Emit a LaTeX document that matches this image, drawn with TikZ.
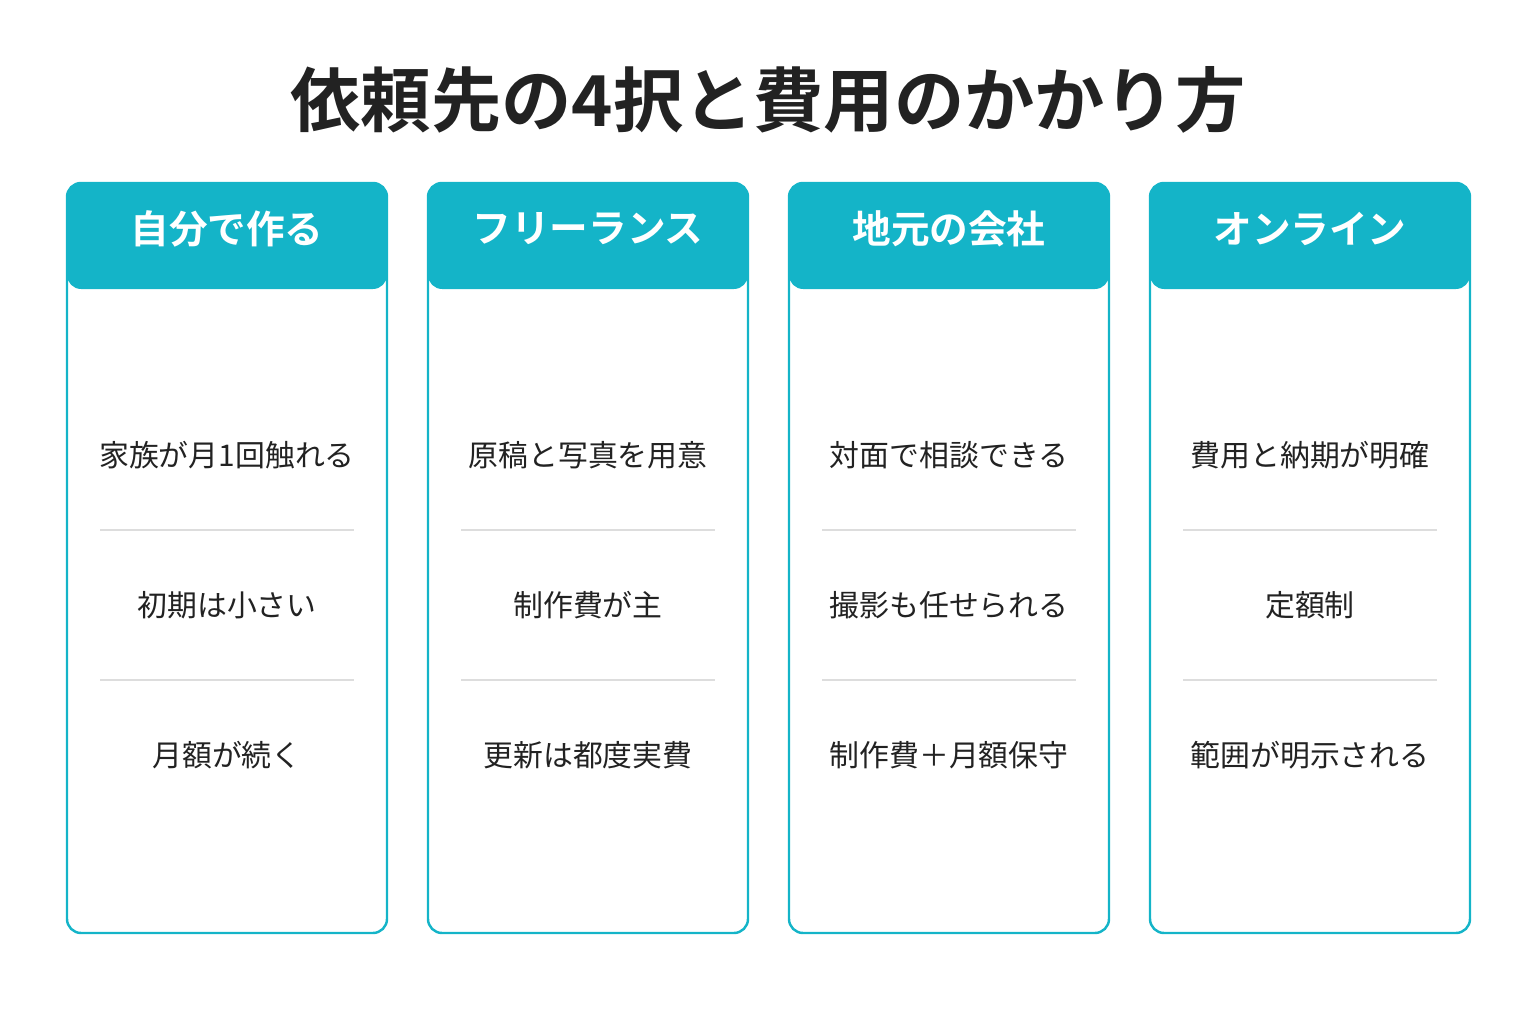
\documentclass[tikz,border=0pt]{standalone}
\usepackage{fontspec}
\newfontfamily\cjk[BoldFont={Noto Sans CJK JP Bold}]{Noto Sans CJK JP}
\definecolor{teal}{HTML}{14B4C8}
\definecolor{ink}{HTML}{222222}
\definecolor{rule}{HTML}{DDDDDD}
\tikzset{
  card/.style={draw=teal, line width=1.4pt, rounded corners=8pt},
  head/.style={fill=teal, rounded corners=8pt},
  headtext/.style={text=white, font=\cjk\bfseries\fontsize{22}{26}\selectfont},
  item/.style={text=ink, font=\cjk\fontsize{17}{20}\selectfont},
  sep/.style={draw=rule, line width=0.6pt}
}
\begin{document}
\begin{tikzpicture}[x=0.02cm,y=-0.02cm]
  \useasboundingbox (0,0) rectangle (1536,1024);
  % title
  \node[text=ink, font=\cjk\bfseries\fontsize{40}{46}\selectfont] (title) at (768,100) {依頼先の4択と費用のかかり方};

  % cards
  \foreach \x/\n/\h/\a/\b/\c in {
      67/self/自分で作る/家族が月1回触れる/初期は小さい/月額が続く,
      428/free/フリーランス/原稿と写真を用意/制作費が主/更新は都度実費,
      789/local/地元の会社/対面で相談できる/撮影も任せられる/制作費＋月額保守,
      1150/web/オンライン/費用と納期が明確/定額制/範囲が明示される} {
    \fill[head] (\x,183) rectangle (\x+320,289);
    \draw[card] (\x,183) rectangle (\x+320,933);
    \node[headtext] (\n-head) at (\x+160,229) {\h};
    \node[item] (\n-a) at (\x+160,455) {\a};
    \node[item] (\n-b) at (\x+160,605) {\b};
    \node[item] (\n-c) at (\x+160,755) {\c};
    \draw[sep] (\x+33,530) -- (\x+287,530);
    \draw[sep] (\x+33,680) -- (\x+287,680);
  }
\end{tikzpicture}
\end{document}
